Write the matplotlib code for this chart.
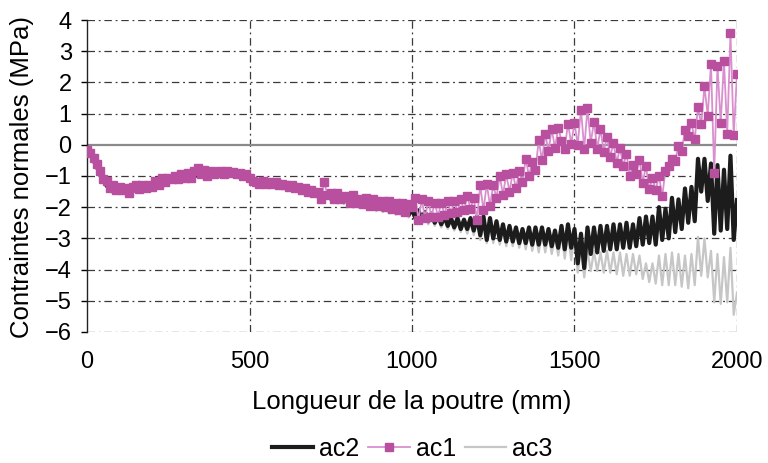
import numpy as np
import matplotlib
matplotlib.use("Agg")
import matplotlib.pyplot as plt
from matplotlib.lines import Line2D

# positions along the beam (mm), one sample every 10 mm
x_mm = np.arange(0, 2001, 10)

ac1 = [
    -0.17, -0.25, -0.43, -0.6, -0.85, -1.1, -1.15, -1.4, -1.3, -1.45,
    -1.35, -1.45, -1.38, -1.55, -1.35, -1.3, -1.42, -1.3, -1.4, -1.3,
    -1.35, -1.15, -1.3, -1.05, -1.2, -1.05, -1.1, -1.0, -1.1, -0.95,
    -1.05, -0.9, -1.05, -0.85, -0.75, -0.95, -0.8, -1.0, -0.85, -0.95,
    -0.9, -0.85, -0.95, -0.85, -0.9, -0.88, -0.95, -0.92, -1.0, -0.95,
    -1.05, -1.15, -1.2, -1.25, -1.15, -1.25, -1.2, -1.25, -1.2, -1.3,
    -1.25, -1.3, -1.35, -1.3, -1.4, -1.35, -1.45, -1.4, -1.5, -1.45,
    -1.55, -1.5, -1.75, -1.2, -1.6, -1.55, -1.75, -1.55, -1.75, -1.65,
    -1.7, -1.85, -1.6, -1.85, -1.75, -1.9, -1.7, -1.95, -1.75, -1.8,
    -1.95, -1.8, -2.0, -1.8, -2.05, -1.85, -2.1, -1.85, -2.15, -1.9,
    -2.0, -1.7, -2.4, -1.75, -2.35, -1.8, -2.3, -1.85, -2.3, -1.85,
    -2.25, -1.8, -2.2, -1.8, -2.15, -1.75, -2.1, -1.65, -2.05, -1.7,
    -2.4, -1.3, -2.1, -1.25, -1.95, -1.3, -1.7, -1.0, -1.6, -0.95,
    -1.5, -0.9, -1.4, -0.85, -1.2, -0.45, -1.0, -0.55, -0.8, 0.15,
    -0.5, 0.35, -0.2, 0.5, -0.1, 0.55, 0.13, -0.12, 0.68, 0.04,
    0.7, 0.0, 1.13, -0.12, 1.17, 0.06, 0.74, -0.12, 0.5, -0.22,
    0.26, -0.38, 0.06, -0.58, -0.09, -0.68, -0.28, -1.0, -0.65, -0.93,
    -0.48, -1.21, -0.68, -1.43, -1.07, -1.45, -1.0, -1.64, -0.83, -0.67,
    -0.44, -0.51, -0.03, -0.19, 0.47, 0.28, 0.7, 0.17, 1.2, 0.66,
    1.88, 0.93, 2.59, -0.9, 2.52, 0.7, 2.7, 0.36, 3.57, 0.31,
    2.26,
]

ac2 = [
    -0.2, -0.3, -0.5, -0.7, -0.95, -1.15, -1.3, -1.42, -1.48, -1.5,
    -1.47, -1.52, -1.46, -1.5, -1.43, -1.47, -1.4, -1.43, -1.36, -1.38,
    -1.3, -1.32, -1.24, -1.26, -1.17, -1.2, -1.12, -1.15, -1.07, -1.1,
    -1.02, -1.06, -0.98, -1.02, -0.95, -0.99, -0.93, -0.97, -0.92, -0.96,
    -0.92, -0.96, -0.93, -0.97, -0.94, -0.99, -0.97, -1.02, -1.01, -1.06,
    -1.05, -1.12, -1.14, -1.2, -1.17, -1.23, -1.2, -1.27, -1.24, -1.31,
    -1.27, -1.35, -1.32, -1.4, -1.36, -1.45, -1.4, -1.5, -1.45, -1.55,
    -1.48, -1.6, -1.52, -1.66, -1.57, -1.72, -1.6, -1.76, -1.65, -1.82,
    -1.7, -1.86, -1.74, -1.9, -1.78, -1.95, -1.82, -2.0, -1.86, -2.05,
    -1.9, -2.08, -1.93, -2.12, -1.97, -2.16, -2.0, -2.2, -2.03, -2.25,
    -2.05, -2.35, -2.1, -2.4, -2.15, -2.45, -2.2, -2.5, -2.25, -2.55,
    -2.3, -2.6, -2.35, -2.65, -2.35, -2.7, -2.4, -2.7, -2.35, -2.75,
    -2.3, -2.9, -2.3, -3.05, -2.35, -3.0, -2.45, -3.05, -2.55, -3.1,
    -2.6, -3.1, -2.65, -3.15, -2.7, -3.15, -2.65, -3.2, -2.65, -3.2,
    -2.65, -3.2, -2.7, -3.25, -2.75, -3.3, -2.6, -3.35, -2.55, -3.3,
    -2.7, -3.8, -2.85, -3.95, -2.65, -3.5, -2.65, -3.45, -2.6, -3.4,
    -2.6, -3.35, -2.55, -3.35, -2.55, -3.3, -2.5, -3.3, -2.55, -3.25,
    -2.35, -3.2, -2.3, -3.15, -2.3, -3.2, -2.0, -3.05, -2.05, -3.0,
    -1.7, -2.8, -1.75, -2.7, -1.4, -2.5, -1.35, -2.45, -0.45, -1.5,
    -0.45, -1.8, -0.6, -2.85, -0.65, -2.75, -0.8, -2.7, -0.35, -3.05,
    -1.77,
]

ac3 = [
    -0.22, -0.33, -0.53, -0.74, -1.0, -1.2, -1.36, -1.48, -1.54, -1.56,
    -1.52, -1.58, -1.5, -1.55, -1.47, -1.52, -1.44, -1.48, -1.4, -1.43,
    -1.34, -1.37, -1.28, -1.31, -1.21, -1.25, -1.16, -1.2, -1.11, -1.15,
    -1.06, -1.11, -1.02, -1.07, -0.99, -1.04, -0.97, -1.02, -0.96, -1.01,
    -0.96, -1.01, -0.97, -1.02, -0.98, -1.04, -1.01, -1.07, -1.05, -1.11,
    -1.1, -1.17, -1.19, -1.26, -1.22, -1.29, -1.25, -1.33, -1.29, -1.37,
    -1.32, -1.41, -1.37, -1.46, -1.41, -1.51, -1.45, -1.57, -1.5, -1.62,
    -1.53, -1.68, -1.57, -1.74, -1.62, -1.8, -1.65, -1.84, -1.7, -1.9,
    -1.75, -1.94, -1.79, -1.98, -1.83, -2.03, -1.87, -2.08, -1.91, -2.13,
    -1.95, -2.16, -1.98, -2.2, -2.02, -2.24, -2.05, -2.28, -2.08, -2.33,
    -2.1, -2.45, -2.15, -2.5, -2.2, -2.55, -2.25, -2.6, -2.3, -2.65,
    -2.35, -2.7, -2.4, -2.75, -2.45, -2.8, -2.5, -2.85, -2.5, -2.9,
    -2.45, -3.05, -2.5, -3.15, -2.55, -3.15, -2.65, -3.2, -2.7, -3.25,
    -2.75, -3.25, -2.8, -3.3, -2.85, -3.35, -2.8, -3.4, -2.85, -3.45,
    -2.85, -3.45, -2.9, -3.5, -2.95, -3.55, -2.85, -3.65, -2.85, -3.7,
    -2.85, -4.1, -3.3, -4.25, -3.4, -4.05, -3.4, -4.05, -3.45, -4.1,
    -3.4, -4.1, -3.45, -4.15, -3.45, -4.2, -3.5, -4.2, -3.5, -4.15,
    -3.55, -4.3, -3.8, -4.4, -3.8, -4.45, -3.55, -4.5, -3.5, -4.5,
    -3.45, -4.5, -3.5, -4.55, -3.55, -4.6, -3.5, -4.5, -2.95, -4.2,
    -3.0, -4.25, -3.4, -5.05, -3.5, -5.1, -3.6, -5.05, -3.3, -5.45,
    -4.74,
]

y_ticks = [-6, -5, -4, -3, -2, -1, 0, 1, 2, 3, 4]
x_ticks = [0, 500, 1000, 1500, 2000]

plt.rcParams["font.family"] = ["Liberation Sans", "DejaVu Sans"]

fig = plt.figure(figsize=(7.68, 4.63), dpi=100)
ax = fig.add_axes([0.1133, 0.283, 0.8463, 0.6738])

grid_style = dict(color="#3a3a3a", linewidth=0.9, linestyle=(0, (6, 3, 1.5, 3)))
for yv in y_ticks:
    if yv != 0:
        ax.axhline(yv, zorder=1, **grid_style)
for xv in x_ticks[1:]:
    ax.axvline(xv, zorder=1, **grid_style)
ax.axhline(0, color="#8a8a8a", linewidth=1.6, zorder=1.5)

magenta = "#b8509f"
pink = "#d98fce"

ax.plot(x_mm, ac3, color="#c6c6c6", linewidth=1.6, zorder=2)
ax.plot(x_mm, ac2, color="#1c1c1c", linewidth=3.0, zorder=3)
ax.plot(x_mm, ac1, color=pink, linewidth=1.3, marker="s", markersize=5.4,
        markerfacecolor=magenta, markeredgecolor=magenta, zorder=4)

ax.set_xlim(0, 2000)
ax.set_ylim(-6, 4)
ax.set_xticks(x_ticks)
ax.set_yticks(y_ticks)
ax.tick_params(axis="x", length=0, pad=14, labelsize=17)
ax.tick_params(axis="y", length=4, width=1, pad=7, labelsize=17, direction="out")

for s in ["top", "right", "bottom"]:
    ax.spines[s].set_visible(False)
ax.spines["left"].set_linewidth(1.0)
ax.spines["left"].set_color("#222222")

ax.set_xlabel("Longueur de la poutre (mm)", fontsize=18.5, labelpad=12)
fig.text(0.028, 1 - 177 / 463, "Contraintes normales (MPa)", rotation=90,
         fontsize=18.5, ha="center", va="center")

handles = [
    Line2D([], [], color="#1c1c1c", linewidth=3.0),
    Line2D([], [], color=pink, linewidth=1.3, marker="s", markersize=5.4,
           markerfacecolor=magenta, markeredgecolor=magenta),
    Line2D([], [], color="#c6c6c6", linewidth=1.6),
]
fig.legend(handles, ["ac2", "ac1", "ac3"], loc="center", ncol=3,
           bbox_to_anchor=(0.537, 1 - 449 / 463), frameon=False, fontsize=18,
           handlelength=1.65, handletextpad=0.25, columnspacing=0.35,
           borderpad=0.0)

fig.savefig("out.png", dpi=100)
